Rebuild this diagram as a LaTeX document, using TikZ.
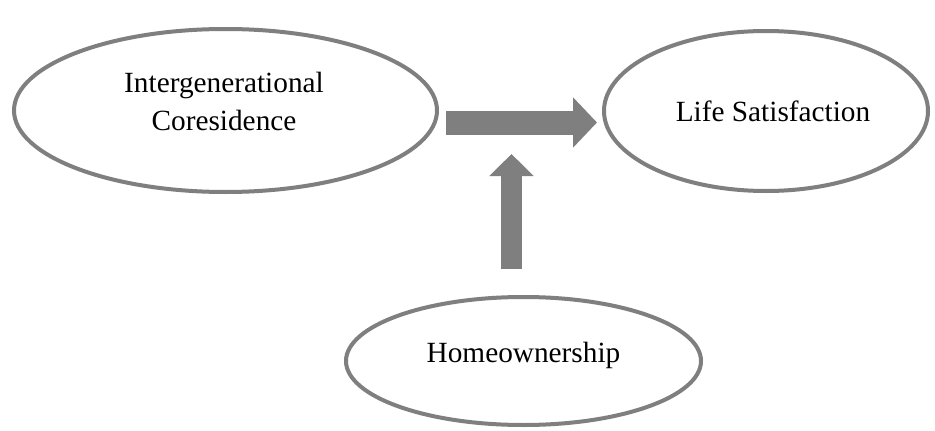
\documentclass[tikz,border=0pt]{standalone}
\usepackage{fontspec}
\setmainfont{Liberation Serif}
\usetikzlibrary{shapes.geometric,arrows.meta}
\definecolor{frame}{RGB}{127,127,127}
\tikzset{
  ell/.style={ellipse, draw=frame, line width=4pt, inner sep=0pt, fill=white},
  lbl/.style={font=\fontsize{29.3}{37.3}\selectfont, text=black, inner sep=0pt, align=center},
  blockarrow/.style={draw=frame, line cap=butt},
}
\begin{document}
\begin{tikzpicture}[x=1pt,y=-1pt]
\useasboundingbox[fill=white] (0,0) rectangle (935,431);
\node[ell, minimum width=423pt, minimum height=163pt] (IC) at (225.5,110.5) {};
\node[ell, minimum width=324pt, minimum height=160pt] (LS) at (766,111) {};
\node[ell, minimum width=355pt, minimum height=128pt] (HO) at (523.5,361) {};
\node[lbl, anchor=base] (ICt) at (224,130) {Intergenerational\\Coresidence};
\node[lbl, anchor=base] (LSt) at (773,121.7) {Life Satisfaction};
\node[lbl, anchor=base] (HOt) at (523.5,362.7) {Homeownership};
\coordinate (hs) at (446,122.5);
\coordinate (he) at (597,122.5);
\coordinate (vs) at (511.5,269);
\coordinate (ve) at (511.5,154);
\draw[blockarrow, line width=24pt, -{Triangle[width=49pt,length=24pt]}] (hs) -- (he);
\draw[blockarrow, line width=21pt, -{Triangle[width=43pt,length=22pt]}] (vs) -- (ve);
\end{tikzpicture}
\end{document}
